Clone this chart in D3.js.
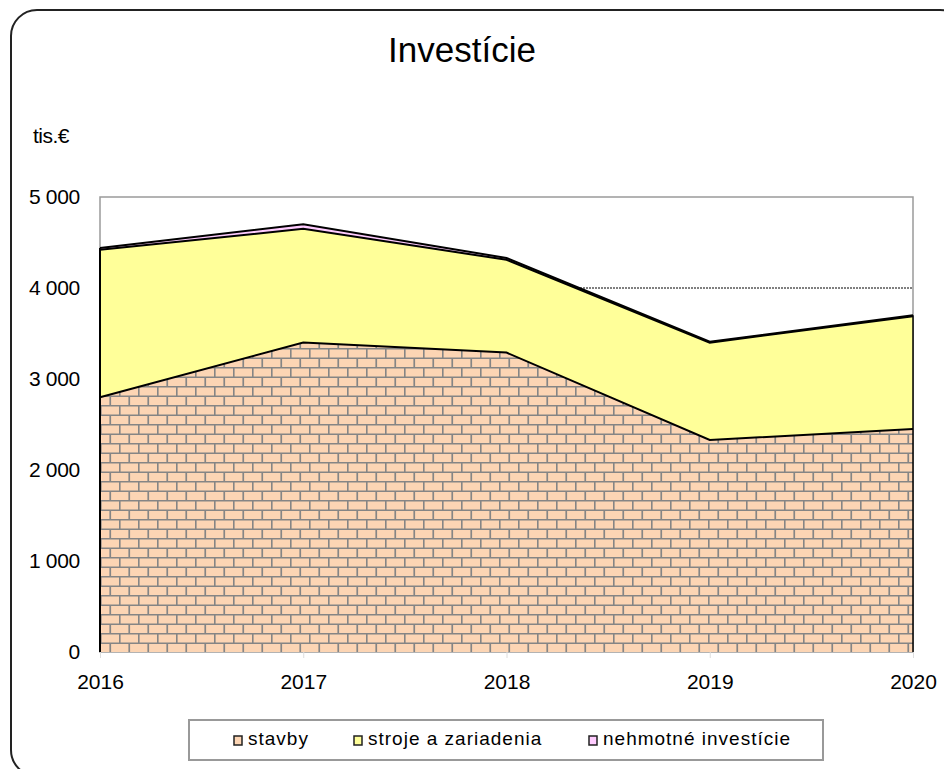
<!DOCTYPE html>
<html>
<head>
<meta charset="utf-8">
<script src="https://cdn.jsdelivr.net/npm/d3@7"></script>
<style>
  body { margin: 0; background: #fff; }
  text { font-family: Arial, "Liberation Sans", sans-serif; fill: #000; }
</style>
</head>
<body>
<svg id="vis"></svg>
<script>
// chart data
const years = [2016, 2017, 2018, 2019, 2020]
const stavby = [2800, 3400, 3290, 2330, 2450]
const stroje = [1620, 1250, 1020, 1070, 1240]
const nehmotne = [20, 50, 20, 10, 10]
const seriesNames = ['stavby', 'stroje a zariadenia', 'nehmotné investície']
const yTicks = [0, 1000, 2000, 3000, 4000, 5000]

// layout
const W = 944, H = 769
const PLOT = {left: 100, right: 913, top: 197, bottom: 652}

var svg = d3.select('#vis')
    .attr('width', W)
    .attr('height', H)

// brick pattern for stavby
var defs = svg.append('defs')
var brick = defs.append('pattern')
    .attr('id', 'brick')
    .attr('patternUnits', 'userSpaceOnUse')
    .attr('x', PLOT.left)
    .attr('y', PLOT.bottom)
    .attr('width', 19)
    .attr('height', 19)
brick.append('rect')
    .attr('width', 19)
    .attr('height', 19)
    .attr('fill', '#fcd5b4')
brick.append('path')
    .attr('d', 'M0,0.75H19M0,10.25H19M0.75,0V9.5M10.25,9.5V19')
    .attr('stroke', '#858585')
    .attr('stroke-width', 1.7)
    .attr('fill', 'none')

// outer frame
svg.append('rect')
    .attr('x', 11)
    .attr('y', 10)
    .attr('width', 955)
    .attr('height', 766)
    .attr('rx', 26)
    .attr('fill', 'none')
    .attr('stroke', '#222')
    .attr('stroke-width', 2)

// title
svg.append('text')
    .attr('x', 462)
    .attr('y', 62)
    .attr('font-size', '35px')
    .style('text-anchor', 'middle')
    .text('Investície')

svg.append('text')
    .attr('x', 33)
    .attr('y', 143)
    .attr('font-size', '21px')
    .attr('letter-spacing', '-0.5px')
    .text('tis.€')

// scales
var x = d3.scalePoint()
    .domain(years)
    .range([PLOT.left, PLOT.right])
var y = d3.scaleLinear()
    .domain([0, 5000])
    .range([PLOT.bottom, PLOT.top])

var fmt = d3.formatLocale({decimal: ',', thousands: ' ', grouping: [3], currency: ['', '€']}).format(',d')

// plot border
svg.append('rect')
    .attr('x', PLOT.left)
    .attr('y', PLOT.top)
    .attr('width', PLOT.right - PLOT.left)
    .attr('height', PLOT.bottom - PLOT.top)
    .attr('fill', '#fff')
    .attr('stroke', '#9a9a9a')
    .attr('stroke-width', 1.5)

// dotted gridlines
svg.append('g')
    .selectAll('line')
    .data(yTicks.filter(d => d > 0 && d < 5000))
    .join('line')
    .attr('x1', PLOT.left)
    .attr('x2', PLOT.right)
    .attr('y1', d => y(d))
    .attr('y2', d => y(d))
    .attr('stroke', '#000')
    .attr('stroke-width', 1)
    .attr('stroke-dasharray', '2,1')

// stacked areas
var rows = years.map((yr, i) => ({year: yr, s0: stavby[i], s1: stroje[i], s2: nehmotne[i]}))
var stack = d3.stack().keys(['s0', 's1', 's2'])(rows)
var fills = ['url(#brick)', '#ffff99', '#ffccff']

var area = d3.area()
    .x(d => x(d.data.year))
    .y0(d => y(d[0]))
    .y1(d => y(d[1]))
var topLine = d3.line()
    .x(d => x(d.data.year))
    .y(d => y(d[1]))

stack.forEach((layer, i) => {
    svg.append('path')
        .datum(layer)
        .attr('d', area)
        .attr('fill', fills[i])
})
// black outlines on top of each layer
;[1, 2, 0].forEach(i => {
    svg.append('path')
        .datum(stack[i])
        .attr('d', topLine)
        .attr('fill', 'none')
        .attr('stroke', '#000')
        .attr('stroke-width', 2)
})

// left and right edges of the areas
;[0, years.length - 1].forEach(i => {
    svg.append('line')
        .attr('x1', x(years[i])).attr('x2', x(years[i]))
        .attr('y1', PLOT.bottom)
        .attr('y2', y(stack[2][i][1]))
        .attr('stroke', '#000')
        .attr('stroke-width', i == 0 ? 2 : 1.5)
})

// axes
var yAxis = svg.append('g')
    .attr('transform', `translate(${PLOT.left},0)`)
    .call(d3.axisLeft(y).tickValues(yTicks).tickSize(0).tickPadding(20).tickFormat(fmt))
yAxis.select('.domain').remove()
yAxis.selectAll('text')
    .attr('font-size', '21px')
    .attr('font-family', 'Arial, "Liberation Sans", sans-serif')
    .attr('letter-spacing', '-0.3px')

var xAxis = svg.append('g')
    .attr('transform', `translate(0,${PLOT.bottom})`)
    .call(d3.axisBottom(x).tickSize(6).tickPadding(16))
xAxis.select('.domain').remove()
xAxis.selectAll('line')
    .attr('stroke', '#ddd')
xAxis.selectAll('text')
    .attr('font-size', '21px')
    .attr('font-family', 'Arial, "Liberation Sans", sans-serif')

// legend
var legend = svg.append('g')
legend.append('rect')
    .attr('x', 189)
    .attr('y', 720)
    .attr('width', 634)
    .attr('height', 40)
    .attr('fill', '#fff')
    .attr('stroke', '#999')
    .attr('stroke-width', 2)

var legendX = [234, 354, 589]
var legendFill = ['#fcd5b4', '#ffff99', '#ffccff']
seriesNames.forEach((name, i) => {
    legend.append('rect')
        .attr('x', legendX[i])
        .attr('y', 736)
        .attr('width', 8)
        .attr('height', 9)
        .attr('fill', legendFill[i])
        .attr('stroke', '#222')
        .attr('stroke-width', 1.5)
    legend.append('text')
        .attr('x', legendX[i] + 14)
        .attr('y', 745)
        .attr('font-size', '19px')
        .attr('letter-spacing', '1px')
        .text(name)
})
</script>
</body>
</html>
